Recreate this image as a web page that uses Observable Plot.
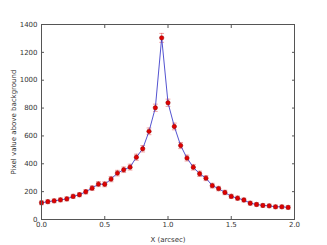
<!DOCTYPE html>
<html>
<head>
<meta charset="utf-8">
<script src="https://cdn.jsdelivr.net/npm/d3@7"></script>
<script src="https://cdn.jsdelivr.net/npm/@observablehq/plot@0.6"></script>
<style>
  html, body { margin: 0; padding: 0; background: #fff; }
  #chart svg { display: block; }
</style>
</head>
<body>
<div id="chart"></div>
<script>
const xs = [0.00, 0.05, 0.10, 0.15, 0.20, 0.25, 0.30, 0.35, 0.40, 0.45,
            0.50, 0.55, 0.60, 0.65, 0.70, 0.75, 0.80, 0.85, 0.90, 0.95,
            1.00, 1.05, 1.10, 1.15, 1.20, 1.25, 1.30, 1.35, 1.40, 1.45,
            1.50, 1.55, 1.60, 1.65, 1.70, 1.75, 1.80, 1.85, 1.90, 1.95];
const values = [120, 128, 134, 141, 148, 166, 178, 199, 225, 254,
                253, 290, 333, 357, 376, 447, 508, 633, 802, 1304,
                838, 668, 531, 441, 375, 328, 297, 243, 222, 194,
                166, 153, 140, 117, 108, 101, 98, 91, 91, 87];
const errors = [14, 14, 14, 14, 15, 15, 15, 16, 17, 18,
                18, 19, 20, 20, 21, 22, 23, 24, 26, 32,
                26, 24, 22, 21, 20, 19, 18, 17, 16, 16,
                15, 15, 14, 14, 13, 13, 13, 13, 13, 13];
const xTicks = [0, 0.5, 1.0, 1.5, 2.0];
const yTicks = [0, 200, 400, 600, 800, 1000, 1200, 1400];

const data = xs.map((x, i) => ({x, y: values[i], e: errors[i]}));

const capShape = {
  draw(context, l) {
    context.moveTo(0, 0);
    context.lineTo(0, -l);
  }
};

const axisColor = "#555";
const textColor = "#333";

const chart = Plot.plot({
  width: 327,
  height: 245,
  marginLeft: 41,
  marginRight: 33,
  marginTop: 24,
  marginBottom: 26,
  style: {fontFamily: "DejaVu Sans", fontSize: "7px", color: textColor, background: "#fff"},
  x: {domain: [0, 2]},
  y: {domain: [0, 1400]},
  marks: [
    Plot.ruleX(data, {x: "x", y1: d => d.y - d.e, y2: d => d.y + d.e, stroke: "#e03030", strokeOpacity: 0.45, strokeWidth: 1}),
    Plot.vector(data, {x: "x", y: d => d.y + d.e, rotate: 90, length: 4, anchor: "middle", shape: capShape, stroke: "#e03030", strokeOpacity: 0.45, strokeWidth: 1}),
    Plot.vector(data, {x: "x", y: d => d.y - d.e, rotate: 90, length: 4, anchor: "middle", shape: capShape, stroke: "#e03030", strokeOpacity: 0.45, strokeWidth: 1}),
    Plot.line(data, {x: "x", y: "y", stroke: "#3535c8", strokeOpacity: 0.85, strokeWidth: 1}),
    Plot.dot(data, {x: "x", y: "y", r: 2.2, fill: "#e00000", stroke: "#8a0000", strokeWidth: 0.5}),
    Plot.frame({stroke: axisColor, strokeWidth: 1}),
    Plot.axisX({anchor: "bottom", ticks: xTicks, tickSize: -3, tickPadding: 6, tickFormat: d3.format(".1f"), stroke: axisColor, fill: textColor, label: "X (arcsec)", labelAnchor: "center", labelArrow: "none", labelOffset: 22}),
    Plot.axisX({anchor: "top", ticks: xTicks, tickSize: -3, tickFormat: () => "", stroke: axisColor, label: null}),
    Plot.axisY({anchor: "left", ticks: yTicks, tickSize: -3, tickPadding: 7, tickFormat: d3.format("d"), stroke: axisColor, fill: textColor, label: "Pixel value above background", labelAnchor: "center", labelArrow: "none", labelOffset: 30}),
    Plot.axisY({anchor: "right", ticks: yTicks, tickSize: -3, tickFormat: () => "", stroke: axisColor, label: null})
  ]
});

document.getElementById("chart").appendChild(chart);
</script>
</body>
</html>
